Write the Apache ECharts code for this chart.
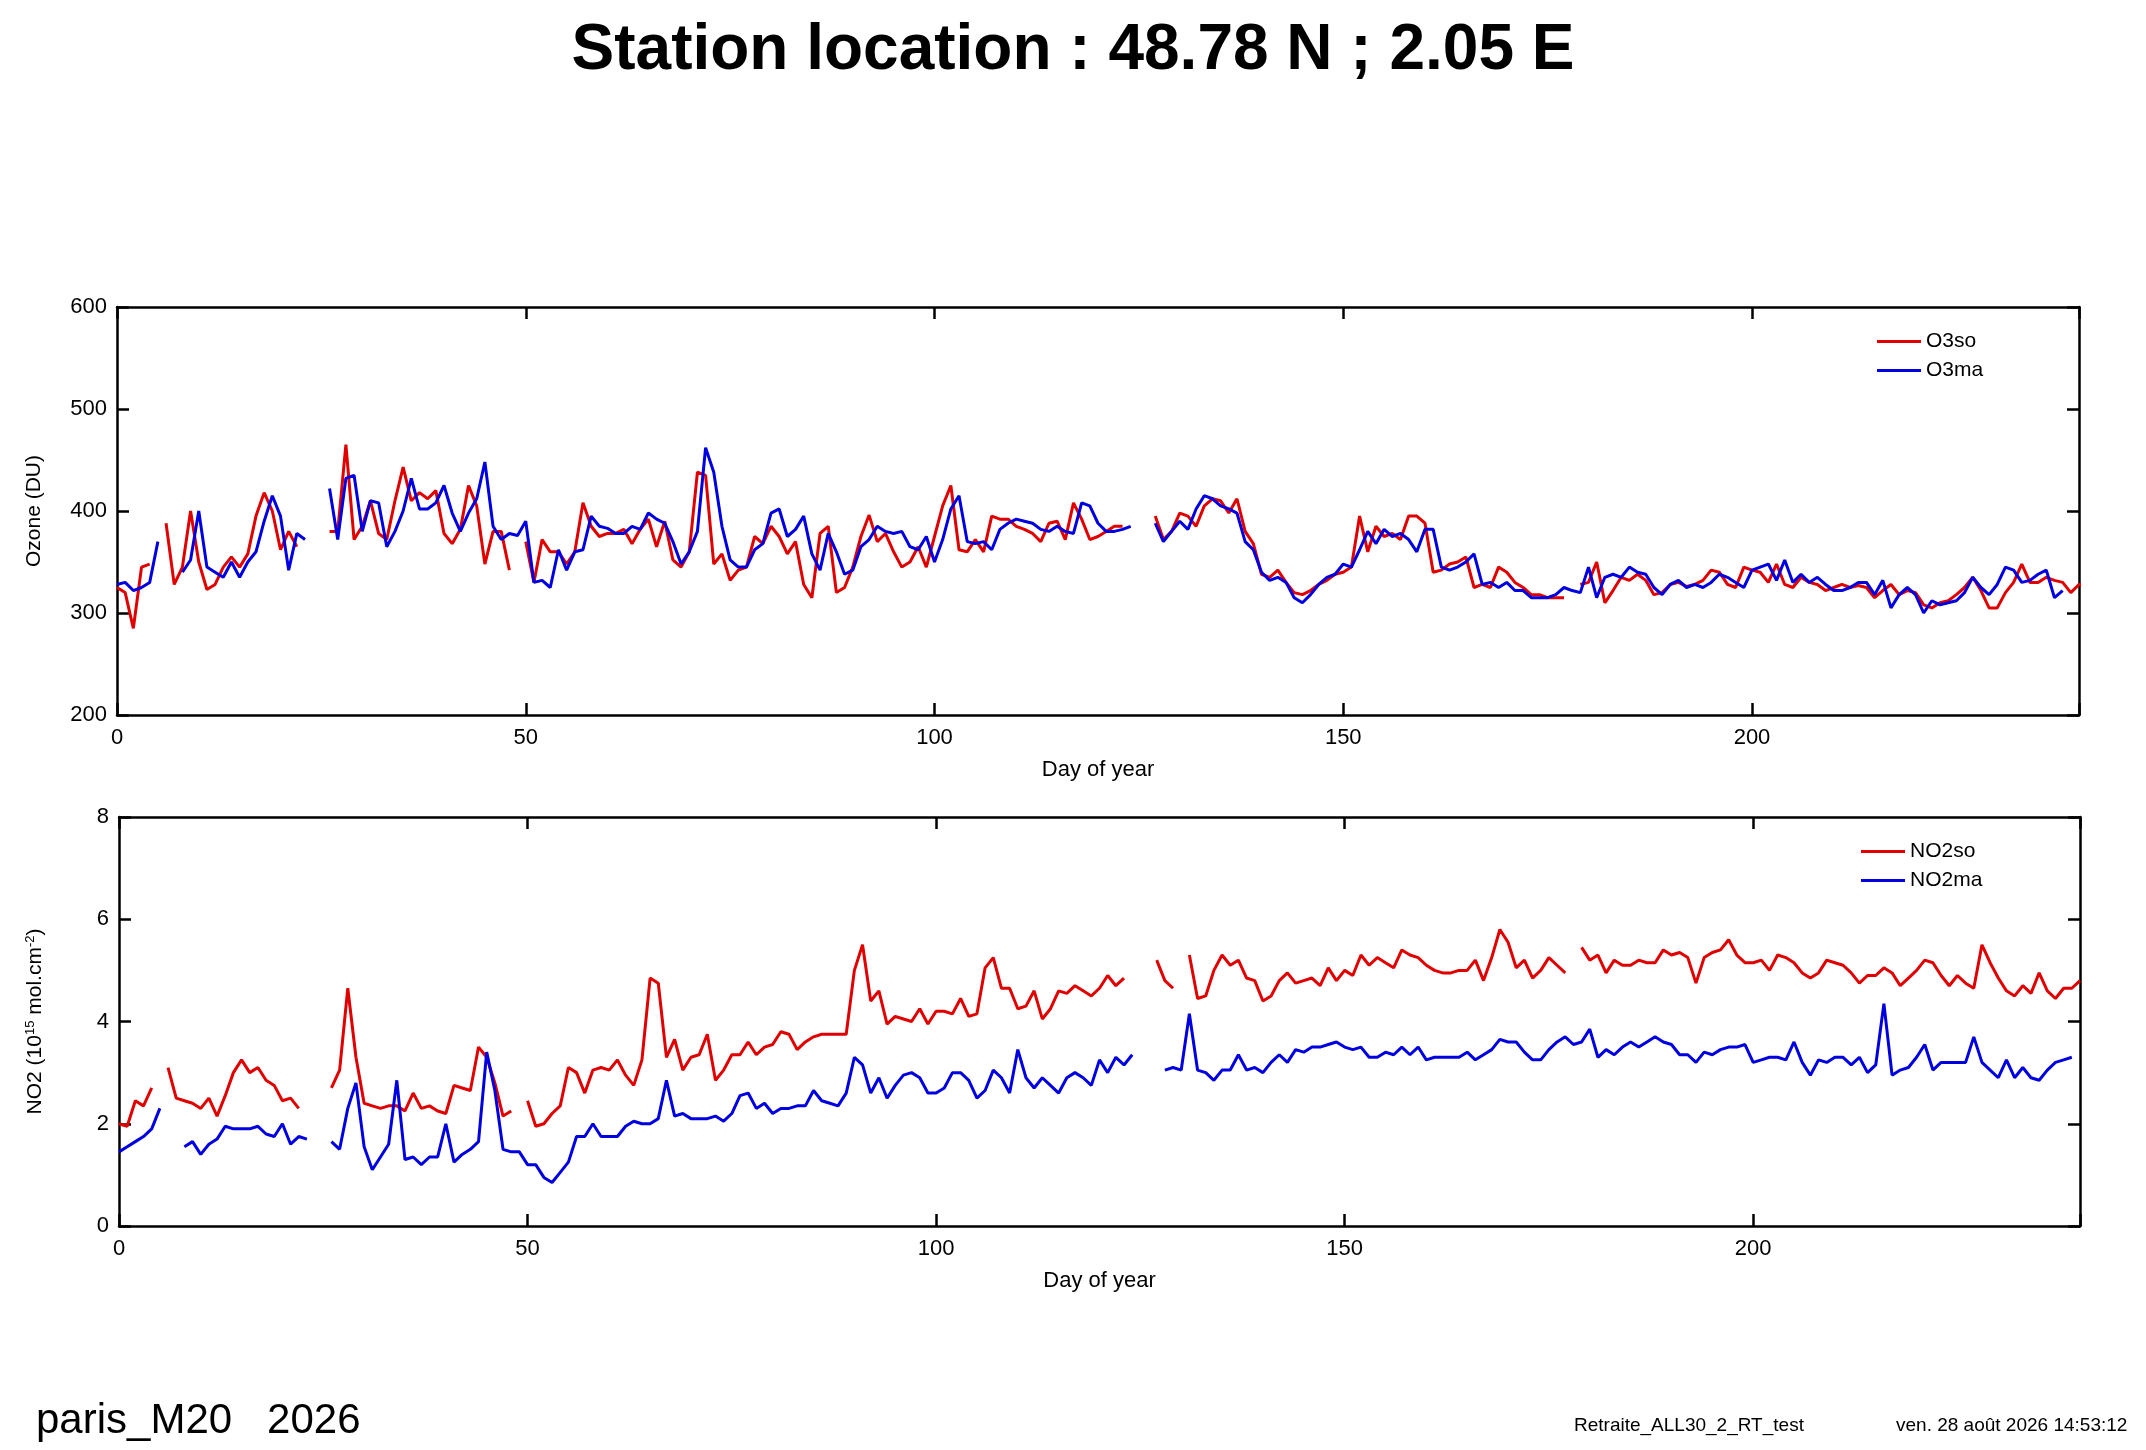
<!DOCTYPE html>
<html>
<head>
<meta charset="UTF-8">
<title>Station location</title>
<script src="https://cdn.jsdelivr.net/npm/echarts@6/dist/echarts.min.js"></script>
<style>html,body{margin:0;padding:0;background:#fff}</style>
</head>
<body>
<div id="content" style="width:2146px;height:1450px;"></div>
<script>
// values by day of year (index = day), null = no measurement
var o3so = [325,320,285,345,348,null,388,328,345,400,350,323,328,345,355,345,358,395,418,400,362,380,365,null,null,null,
380,380,465,372,385,410,378,372,410,443,410,418,412,420,378,368,382,425,405,348,380,380,342,null,
370,330,372,360,360,348,360,408,385,375,378,378,382,368,382,392,365,390,352,345,360,438,435,348,358,332,342,345,375,368,
385,375,358,370,328,315,378,385,320,325,345,375,396,370,378,360,345,350,365,345,375,405,425,362,360,372,360,395,392,392,
385,382,378,370,388,390,372,408,392,372,375,380,385,385,null,null,null,
395,372,380,398,395,385,405,412,410,398,412,380,368,338,335,342,330,320,318,322,328,332,338,340,345,395,360,385,375,378,
372,395,395,388,340,342,348,350,355,325,328,325,345,340,330,325,318,318,315,315,315,null,
328,330,350,310,322,335,332,338,332,318,320,328,330,326,328,332,342,340,328,325,345,342,340,330,348,328,325,335,330,328,
322,325,328,325,327,325,315,322,328,318,322,320,308,305,310,312,318,325,335,322,305,305,320,330,348,330,330,335,332,330,320,328,325];
var o3ma = [328,330,322,325,330,370,null,null,340,352,400,345,340,335,350,335,350,360,390,415,395,342,378,372,null,null,
422,372,432,435,380,410,408,365,380,400,432,402,402,408,425,398,380,398,412,448,385,372,378,376,
390,330,332,325,362,342,360,362,395,385,383,378,378,385,382,398,392,388,370,348,360,380,462,438,385,352,345,345,362,368,
398,402,375,382,395,358,342,378,360,338,342,365,372,385,380,378,380,365,362,375,350,372,402,415,370,368,370,362,382,388,
392,390,388,382,380,385,380,378,408,405,388,380,380,382,385,null,null,
388,370,380,390,382,402,415,412,405,402,398,370,362,340,332,335,330,315,310,318,328,335,338,348,345,362,380,368,382,375,
378,372,360,382,382,345,342,345,350,358,328,330,325,330,322,322,315,315,315,318,325,322,320,345,315,335,338,335,345,340,
338,325,318,328,332,325,328,325,330,338,335,330,325,342,345,348,332,352,330,338,330,335,328,322,322,325,330,330,318,332,
305,318,325,318,300,312,308,310,312,320,335,325,318,328,345,342,330,332,338,342,315,322,null];
var no2so = [2.0,1.95,2.45,2.35,2.7,null,3.1,2.5,2.45,2.4,2.3,2.5,2.15,2.55,3.0,3.25,3.0,3.1,2.85,2.75,2.45,2.5,2.3,null,null,null,
2.7,3.05,4.65,3.3,2.4,2.35,2.3,2.35,2.35,2.25,2.6,2.3,2.35,2.25,2.2,2.75,2.7,2.65,3.5,3.3,2.8,2.15,2.25,null,
2.45,1.95,2.0,2.2,2.35,3.1,3.0,2.6,3.05,3.1,3.05,3.25,2.95,2.75,3.25,4.85,4.75,3.3,3.65,3.05,3.3,3.35,3.75,2.85,3.05,3.35,3.35,3.6,3.35,3.5,
3.55,3.8,3.75,3.45,3.6,3.7,3.75,3.75,3.75,3.75,5.0,5.5,4.4,4.6,3.95,4.1,4.05,4.0,4.25,3.95,4.2,4.2,4.15,4.45,4.1,4.15,5.05,5.25,4.65,4.65,
4.25,4.3,4.6,4.05,4.25,4.6,4.55,4.7,4.6,4.5,4.65,4.9,4.7,4.85,null,null,null,
5.2,4.8,4.65,null,5.3,4.45,4.5,5.0,5.3,5.1,5.2,4.85,4.8,4.4,4.5,4.8,4.95,4.75,4.8,4.85,4.7,5.05,4.8,5.0,4.9,5.3,5.1,5.25,5.15,5.05,
5.4,5.3,5.25,5.1,5.0,4.95,4.95,5.0,5.0,5.2,4.8,5.25,5.8,5.55,5.05,5.2,4.85,5.0,5.25,5.1,4.95,null,
5.45,5.2,5.3,4.95,5.2,5.1,5.1,5.2,5.15,5.15,5.4,5.3,5.35,5.25,4.75,5.25,5.35,5.4,5.6,5.3,5.15,5.15,5.2,5.0,5.3,5.25,5.15,4.95,4.85,4.95,
5.2,5.15,5.1,4.95,4.75,4.9,4.9,5.05,4.95,4.7,4.85,5.0,5.2,5.15,4.9,4.7,4.9,4.75,4.65,5.5,5.15,4.85,4.6,4.5,4.7,4.55,4.95,4.6,4.45,4.65,4.65,4.8];
var no2ma = [1.45,1.55,1.65,1.75,1.9,2.3,null,null,1.55,1.65,1.4,1.6,1.7,1.95,1.9,1.9,1.9,1.95,1.8,1.75,2.0,1.6,1.75,1.7,null,null,
1.65,1.5,2.3,2.8,1.55,1.1,1.35,1.6,2.85,1.3,1.35,1.2,1.35,1.35,2.0,1.25,1.4,1.5,1.65,3.4,2.65,1.5,1.45,1.45,
1.2,1.2,0.95,0.85,1.05,1.25,1.75,1.75,2.0,1.75,1.75,1.75,1.95,2.05,2.0,2.0,2.1,2.85,2.15,2.2,2.1,2.1,2.1,2.15,2.05,2.2,2.55,2.6,2.3,2.4,
2.2,2.3,2.3,2.35,2.35,2.65,2.45,2.4,2.35,2.6,3.3,3.15,2.6,2.9,2.5,2.75,2.95,3.0,2.9,2.6,2.6,2.7,3.0,3.0,2.85,2.5,2.65,3.05,2.9,2.6,
3.45,2.9,2.7,2.9,2.75,2.6,2.9,3.0,2.9,2.75,3.25,3.0,3.3,3.15,3.35,null,null,null,
3.05,3.1,3.05,4.15,3.05,3.0,2.85,3.05,3.05,3.35,3.05,3.1,3.0,3.2,3.35,3.2,3.45,3.4,3.5,3.5,3.55,3.6,3.5,3.45,3.5,3.3,3.3,3.4,3.35,3.5,
3.35,3.5,3.25,3.3,3.3,3.3,3.3,3.4,3.25,3.35,3.45,3.65,3.6,3.6,3.4,3.25,3.25,3.45,3.6,3.7,3.55,3.6,3.85,3.3,3.45,3.35,3.5,3.6,3.5,3.6,
3.7,3.6,3.55,3.35,3.35,3.2,3.4,3.35,3.45,3.5,3.5,3.55,3.2,3.25,3.3,3.3,3.25,3.6,3.2,2.95,3.25,3.2,3.3,3.3,3.15,3.3,3.0,3.15,4.35,2.95,
3.05,3.1,3.3,3.55,3.05,3.2,3.2,3.2,3.2,3.7,3.2,3.05,2.9,3.25,2.9,3.1,2.9,2.85,3.05,3.2,3.25,3.3];
var dayTicks = [0, 50, 100, 150, 200];

function pairs(arr) {
    return arr.map(function (v, i) { return [i, v]; });
}

var myChart = echarts.init(document.getElementById('content'));
var FONT = 'Liberation Sans';
var RED = '#e00000', BLUE = '#0000e0';

function xAxes(gi) {
    var base = {
        gridIndex: gi, type: 'value', min: 0, max: 240, interval: 50,
        axisLine: {onZero: false, lineStyle: {color: '#000', width: 2.5}},
        axisTick: {inside: true, length: 12, lineStyle: {color: '#000', width: 2.5}},
        splitLine: {show: false}
    };
    return [
        Object.assign({}, base, {
            position: 'bottom', name: 'Day of year', nameLocation: 'middle', nameGap: 44,
            nameTextStyle: {fontFamily: FONT, fontSize: 22, color: '#000'},
            axisLabel: {fontFamily: FONT, fontSize: 22, color: '#000', margin: 12,
                formatter: function (v) { return dayTicks.indexOf(v) >= 0 ? v : ''; }}
        }),
        Object.assign({}, base, {position: 'top', axisLabel: {show: false}})
    ];
}
function yAxes(gi, min, max, interval, name) {
    var base = {
        gridIndex: gi, type: 'value', min: min, max: max, interval: interval,
        axisLine: {onZero: false, lineStyle: {color: '#000', width: 2.5}},
        axisTick: {inside: true, length: 12, lineStyle: {color: '#000', width: 2.5}},
        splitLine: {show: false}
    };
    return [
        Object.assign({}, base, {
            position: 'left', name: name, nameLocation: 'middle', nameGap: 72,
            nameTextStyle: {fontFamily: FONT, fontSize: 21, color: '#000',
                rich: {sup: {fontFamily: FONT, fontSize: 13, color: '#000', verticalAlign: 'top', padding: [0, 0, 10, 0]}}},
            axisLabel: {fontFamily: FONT, fontSize: 22, color: '#000', margin: 10}
        }),
        Object.assign({}, base, {position: 'right', axisLabel: {show: false}})
    ];
}

option = {
    animation: false,
    backgroundColor: '#fff',
    title: {
        text: 'Station location : 48.78 N ; 2.05 E',
        left: 'center', top: 14,
        textStyle: {fontFamily: FONT, fontSize: 64, fontWeight: 'bold', color: '#000'}
    },
    grid: [
        {left: 117, right: 67, top: 307, height: 408},
        {left: 119, right: 66, top: 817, height: 409}
    ],
    legend: [
        {data: ['O3so', 'O3ma'], orient: 'vertical', left: 1872, top: 326, itemGap: 8,
            icon: 'rect', itemWidth: 44, itemHeight: 3,
            textStyle: {fontFamily: FONT, fontSize: 21, color: '#000'}},
        {data: ['NO2so', 'NO2ma'], orient: 'vertical', left: 1856, top: 836, itemGap: 8,
            icon: 'rect', itemWidth: 44, itemHeight: 3,
            textStyle: {fontFamily: FONT, fontSize: 21, color: '#000'}}
    ],
    xAxis: xAxes(0).concat(xAxes(1)),
    yAxis: yAxes(0, 200, 600, 100, 'Ozone (DU)')
        .concat(yAxes(1, 0, 8, 2, 'NO2 (10{sup|15} mol.cm{sup|-2})')),
    series: [
        {name: 'O3so', type: 'line', xAxisIndex: 0, yAxisIndex: 0, data: pairs(o3so), showSymbol: false,
            lineStyle: {color: RED, width: 3}, itemStyle: {color: RED}},
        {name: 'O3ma', type: 'line', xAxisIndex: 0, yAxisIndex: 0, data: pairs(o3ma), showSymbol: false,
            lineStyle: {color: BLUE, width: 3}, itemStyle: {color: BLUE}},
        {name: 'NO2so', type: 'line', xAxisIndex: 2, yAxisIndex: 2, data: pairs(no2so), showSymbol: false,
            lineStyle: {color: RED, width: 3}, itemStyle: {color: RED}},
        {name: 'NO2ma', type: 'line', xAxisIndex: 2, yAxisIndex: 2, data: pairs(no2ma), showSymbol: false,
            lineStyle: {color: BLUE, width: 3}, itemStyle: {color: BLUE}}
    ],
    graphic: [
        {type: 'text', left: 36, top: 1400, style: {text: 'paris_M20   2026', font: '42px "Liberation Sans"', fill: '#000'}},
        {type: 'text', left: 1574, top: 1416, style: {text: 'Retraite_ALL30_2_RT_test', font: '19px "Liberation Sans"', fill: '#000'}},
        {type: 'text', left: 1896, top: 1416, style: {text: 'ven. 28 août 2026 14:53:12', font: '19px "Liberation Sans"', fill: '#000'}}
    ]
};
myChart.setOption(option);
</script>
</body>
</html>
